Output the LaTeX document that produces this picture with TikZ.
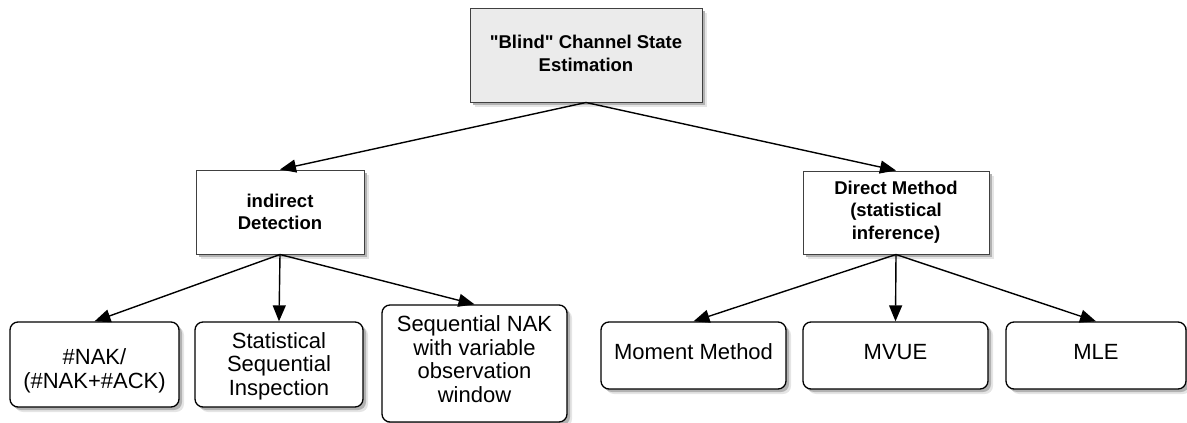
\documentclass[tikz,border=0pt]{standalone}
\usepackage{fontspec}
\setmainfont{Liberation Sans}[Ligatures=TeXOff]
\usetikzlibrary{arrows.meta,shadows,calc}
\begin{document}
\begin{tikzpicture}[x=1pt,y=-1pt,
  softshadow/.style={
    general shadow={shadow xshift=5pt,shadow yshift=-5pt,fill=black!10},
    general shadow={shadow xshift=3pt,shadow yshift=-3pt,fill=black!30}},
  headbox/.style={draw=black!75,line width=1pt,softshadow,fill=white,inner sep=0pt},
  leafbox/.style={draw=black,line width=1.3pt,rounded corners=8pt,softshadow,fill=white,inner sep=0pt},
  boldtxt/.style={inner sep=0pt,align=center,font=\bfseries\fontsize{18.5}{22.5}\selectfont},
  plaintxt/.style={inner sep=0pt,align=center,font=\fontsize{22}{23.5}\selectfont},
  link/.style={line width=1.4pt,-{Triangle[length=16pt,width=13pt]}}
]
\useasboundingbox (0,0) rectangle (1187,423);

% root
\node[headbox,fill=black!8,minimum width=232pt,minimum height=94pt] (root) at (586,55) {};
\node[boldtxt] (roottxt) at (586,53.5) {"Blind" Channel State\\Estimation};

% second level
\node[headbox,minimum width=168pt,minimum height=84pt] (ind) at (280,212) {};
\node[boldtxt] (indtxt) at (280,212) {indirect\\Detection};
\node[headbox,minimum width=186pt,minimum height=83pt] (dir) at (896,212.5) {};
\node[boldtxt] (dirtxt) at (896,212) {Direct Method\\(statistical\\inference)};

% leaves under indirect detection
\node[leafbox,minimum width=169pt,minimum height=85pt] (nak) at (94.5,364.5) {};
\node[plaintxt] (naktxt) at (94.5,371) {\#NAK/\\(\#NAK+\#ACK)};
\node[leafbox,minimum width=168pt,minimum height=85pt] (ssi) at (279,364.5) {};
\node[plaintxt] (ssitxt) at (279,366) {Statistical\\Sequential\\Inspection};
\node[leafbox,minimum width=185pt,minimum height=117pt] (snak) at (474.5,363.5) {};
\node[plaintxt] (snaktxt) at (474.5,359) {Sequential NAK\\with variable\\observation\\window};

% leaves under direct method
\node[leafbox,minimum width=185pt,minimum height=67pt] (mom) at (693.5,355.5) {};
\node[plaintxt] (momtxt) at (693.5,352) {Moment Method};
\node[leafbox,minimum width=185pt,minimum height=67pt] (mvue) at (895.5,355.5) {};
\node[plaintxt] (mvuetxt) at (895.5,352) {MVUE};
\node[leafbox,minimum width=180pt,minimum height=67pt] (mle) at (1096,355.5) {};
\node[plaintxt] (mletxt) at (1096,352) {MLE};

% connectors
\draw[link] (root.south) -- (ind.north);
\draw[link] (root.south) -- (dir.north);
\draw[link] (ind.south) -- (nak.north);
\draw[link] (ind.south) -- (ssi.north);
\draw[link] (ind.south) -- (snak.north);
\draw[link] (dir.south) -- (mom.north);
\draw[link] (dir.south) -- (mvue.north);
\draw[link] (dir.south) -- (mle.north);
\end{tikzpicture}
\end{document}
